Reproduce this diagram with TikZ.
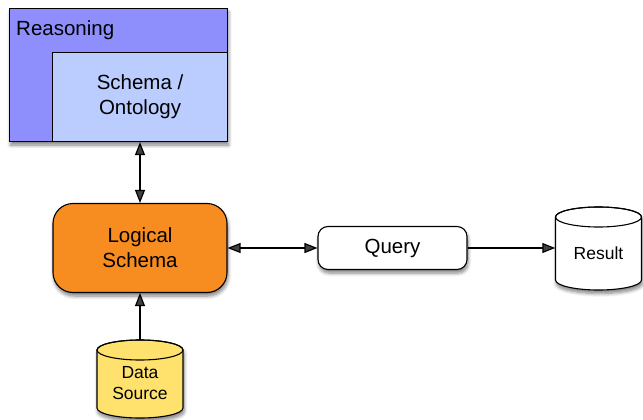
\documentclass[tikz,border=0pt]{standalone}
\usepackage{fontspec}
\setmainfont{Liberation Sans}
\usetikzlibrary{arrows.meta,shadows.blur}
\definecolor{reas}{RGB}{142,142,252}
\definecolor{schemac}{RGB}{187,204,255}
\definecolor{orangec}{RGB}{247,140,32}
\definecolor{yellowc}{RGB}{255,226,110}
\begin{document}
\begin{tikzpicture}[x=1pt,y=-1pt,
  font=\fontsize{20.5}{25}\selectfont,
  shad/.style={blur shadow={shadow xshift=1pt,shadow yshift=-3.5pt,shadow blur steps=6,shadow opacity=50,shadow blur radius=3.5pt}},
  boxline/.style={draw=black,line width=1.1pt},
  arr/.style={line width=1.2pt,-{Triangle[length=13pt,width=10pt]}},
  darr/.style={line width=1.2pt,{Triangle[length=13pt,width=10pt]}-{Triangle[length=13pt,width=10pt]}},
  small/.style={font=\fontsize{17.5}{21}\selectfont}]
\useasboundingbox (0,0) rectangle (643,420);
% Reasoning
\node[boxline,fill=reas,shad,minimum width=218pt,minimum height=133pt,anchor=north west,inner sep=0pt] (reason) at (9,8) {};
\node[anchor=base west,inner sep=0pt] (rlabel) at (16,36) {Reasoning};
\node[boxline,fill=schemac,minimum width=175pt,minimum height=89pt,anchor=north west,align=center,inner sep=0pt] (schema) at (52,52) {Schema /\\Ontology};
% Logical schema
\node[boxline,fill=orangec,shad,rounded corners=20pt,minimum width=174pt,minimum height=89pt,align=center,inner sep=0pt] (logical) at (140,248) {Logical\\Schema};
% Query
\node[boxline,fill=white,shad,rounded corners=10pt,minimum width=149pt,minimum height=43pt,inner sep=0pt] (query) at (392.5,248) {Query};
% Result cylinder
\path[boxline,fill=white,shad] (555.5,217) -- (555.5,280) arc[start angle=180,end angle=360,x radius=43pt,y radius=10pt] -- (641.5,217) arc[start angle=0,end angle=180,x radius=43pt,y radius=10pt] -- cycle;
\draw[line width=1.1pt] (598.5,217) ellipse [x radius=43pt,y radius=10pt];
\node[minimum width=86pt,minimum height=82pt,inner sep=0pt] (res) at (598.5,248) {};
\node[small,inner sep=0pt] (restext) at (598.5,253) {Result};
% Data source cylinder
\path[boxline,fill=yellowc,shad] (97,350) -- (97,408) arc[start angle=180,end angle=360,x radius=43pt,y radius=10pt] -- (183,350) arc[start angle=0,end angle=180,x radius=43pt,y radius=10pt] -- cycle;
\draw[line width=1.1pt] (140,350) ellipse [x radius=43pt,y radius=10pt];
\node[minimum width=86pt,minimum height=78pt,inner sep=0pt] (ds) at (140,379) {};
\node[small,align=center,inner sep=0pt] (dstext) at (140,383) {Data\\Source};
% connectors
\draw[darr] (logical.north |- schema.south) -- (logical.north);
\draw[darr] (logical.east) -- (query.west);
\draw[arr] (query.east) -- (res.west);
\draw[arr] (ds.north) -- (logical.south);
\end{tikzpicture}
\end{document}
